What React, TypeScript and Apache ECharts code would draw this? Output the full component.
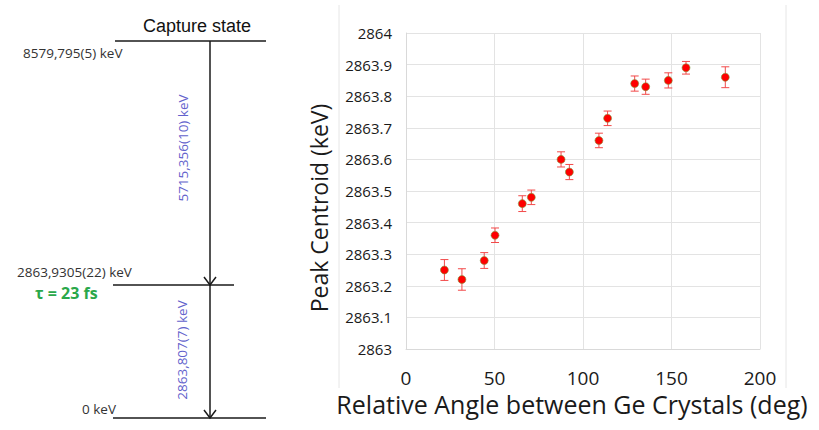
import React, { useEffect, useRef } from "react";
import * as echarts from "echarts";

// Scatter data (relative angle in degrees, peak centroid in keV, error in keV)
const angles = [21.7, 31.6, 44.2, 50.3, 65.7, 70.8, 87.6, 92.3, 109.0, 113.9, 129.2, 135.4, 148.2, 158.2, 180.4];
const centroids = [2863.25, 2863.22, 2863.28, 2863.36, 2863.46, 2863.48, 2863.6, 2863.56, 2863.66, 2863.73, 2863.84, 2863.83, 2863.85, 2863.89, 2863.86];
const errors = [0.033, 0.034, 0.025, 0.023, 0.025, 0.023, 0.024, 0.024, 0.023, 0.023, 0.024, 0.024, 0.024, 0.02, 0.033];

// Level scheme labels
const captureLabel = "Capture state";
const levelLabels = ["8579,795(5) keV", "2863,9305(22) keV", "0 keV"];
const gammaLabels = ["5715,356(10) keV", "2863,807(7) keV"];
const lifetimeLabel = "τ = 23 fs";

const xTitle = "Relative Angle between Ge Crystals (deg)";
const yTitle = "Peak Centroid (keV)";

const FONT = "'Open Sans', sans-serif";

export default function App() {
  const ref = useRef<HTMLDivElement>(null);

  useEffect(() => {
    if (!ref.current) return;
    const chart = echarts.init(ref.current, undefined, { renderer: "svg" });

    const scatterData = angles.map((a, i) => [a, centroids[i]]);
    const errData = angles.map((a, i) => [a, centroids[i], errors[i]]);

    const black = "#1a1a1a";
    const blue = "#6262cc";
    const lineStyle = { stroke: black, lineWidth: 1.5 };

    const graphic: any[] = [
      // separators
      { type: "line", shape: { x1: 339, y1: 5, x2: 339, y2: 388 }, style: { stroke: "#e6e6e6", lineWidth: 1 } },
      { type: "line", shape: { x1: 786, y1: 5, x2: 786, y2: 388 }, style: { stroke: "#e6e6e6", lineWidth: 1 } },
      // level lines
      { type: "line", shape: { x1: 115, y1: 41, x2: 266, y2: 41 }, style: lineStyle },
      { type: "line", shape: { x1: 113, y1: 285, x2: 234, y2: 285 }, style: lineStyle },
      { type: "line", shape: { x1: 113, y1: 418, x2: 266, y2: 418 }, style: lineStyle },
      // transitions
      { type: "line", shape: { x1: 210, y1: 41, x2: 210, y2: 285 }, style: lineStyle },
      { type: "polyline", shape: { points: [[204, 277], [210, 285], [216, 277]] }, style: { stroke: black, lineWidth: 1.5, fill: null } },
      { type: "line", shape: { x1: 210, y1: 285, x2: 210, y2: 418 }, style: lineStyle },
      { type: "polyline", shape: { points: [[204, 410], [210, 418], [216, 410]] }, style: { stroke: black, lineWidth: 1.5, fill: null } },
      // texts
      { type: "text", x: 143, y: 26, style: { text: captureLabel, font: "18px 'Liberation Sans', Arial, sans-serif", fill: "#111", verticalAlign: "middle" } },
      { type: "text", x: 23, y: 53, style: { text: levelLabels[0], font: "13.5px " + FONT, fill: "#333", verticalAlign: "middle" } },
      { type: "text", x: 17, y: 272, style: { text: levelLabels[1], font: "13.5px " + FONT, fill: "#333", verticalAlign: "middle" } },
      { type: "text", x: 82, y: 409, style: { text: levelLabels[2], font: "13.5px " + FONT, fill: "#333", verticalAlign: "middle" } },
      { type: "text", x: 35, y: 293, style: { text: lifetimeLabel, font: "bold 16px " + FONT, fill: "#2aa84a", verticalAlign: "middle" } },
      { type: "text", x: 183, y: 148, rotation: Math.PI / 2, style: { text: gammaLabels[0], font: "13.5px " + FONT, fill: blue, align: "center", verticalAlign: "middle" } },
      { type: "text", x: 182, y: 350, rotation: Math.PI / 2, style: { text: gammaLabels[1], font: "13.5px " + FONT, fill: blue, align: "center", verticalAlign: "middle" } },
    ];

    chart.setOption({
      animation: false,
      backgroundColor: "#ffffff",
      textStyle: { fontFamily: FONT },
      graphic,
      grid: { left: 406, right: 59, top: 33, bottom: 81, containLabel: false, outerBoundsMode: "none" },
      xAxis: {
        type: "value",
        min: 0,
        max: 200,
        interval: 50,
        name: xTitle,
        nameLocation: "middle",
        nameGap: 36,
        nameTextStyle: { fontSize: 25, lineHeight: 18, color: "#1a1a1a", fontFamily: FONT, padding: [0, 22, 0, 0] },
        axisLine: { show: true, lineStyle: { color: "#d9d9d9", width: 1 } },
        axisTick: { show: false },
        axisLabel: { fontSize: 19, lineHeight: 13, color: "#1a1a1a", margin: 22, fontFamily: FONT },
        splitLine: { show: true, lineStyle: { color: "#e3e3e3", width: 1 } },
      },
      yAxis: {
        type: "value",
        min: 2863,
        max: 2864,
        interval: 0.1,
        name: yTitle,
        nameLocation: "middle",
        nameGap: 76,
        nameRotate: 90,
        nameTextStyle: { fontSize: 23, color: "#1a1a1a", fontFamily: FONT, padding: [0, 34, 0, 0] },
        axisLine: { show: true, lineStyle: { color: "#d9d9d9", width: 1 } },
        axisTick: { show: false },
        axisLabel: {
          fontSize: 15,
          color: "#1a1a1a",
          margin: 14,
          fontFamily: FONT,
          formatter: (v: number) => String(parseFloat(v.toFixed(1))),
        },
        splitLine: { show: true, lineStyle: { color: "#e3e3e3", width: 1 } },
      },
      series: [
        {
          type: "custom",
          name: "error",
          data: errData,
          encode: { x: 0, y: 1 },
          z: 2,
          renderItem: (params: any, api: any) => {
            const x = api.value(0);
            const y = api.value(1);
            const e = api.value(2);
            const top = api.coord([x, y + e]);
            const bot = api.coord([x, y - e]);
            const st = { stroke: "#f24a4a", lineWidth: 1 };
            return {
              type: "group",
              children: [
                { type: "line", shape: { x1: top[0], y1: top[1], x2: bot[0], y2: bot[1] }, style: st },
                { type: "line", shape: { x1: top[0] - 4, y1: top[1], x2: top[0] + 4, y2: top[1] }, style: st },
                { type: "line", shape: { x1: bot[0] - 4, y1: bot[1], x2: bot[0] + 4, y2: bot[1] }, style: st },
              ],
            };
          },
        },
        {
          type: "scatter",
          name: "Peak Centroid",
          data: scatterData,
          symbol: "circle",
          symbolSize: 8,
          z: 3,
          itemStyle: { color: "#ff0000", borderColor: "#7c9a3c", borderWidth: 0.6, opacity: 1 },
        },
      ],
    });

    return () => chart.dispose();
  }, []);

  return (
    <div
      ref={ref}
      style={{ position: "absolute", left: 0, top: 0, width: 819, height: 430 }}
    />
  );
}
